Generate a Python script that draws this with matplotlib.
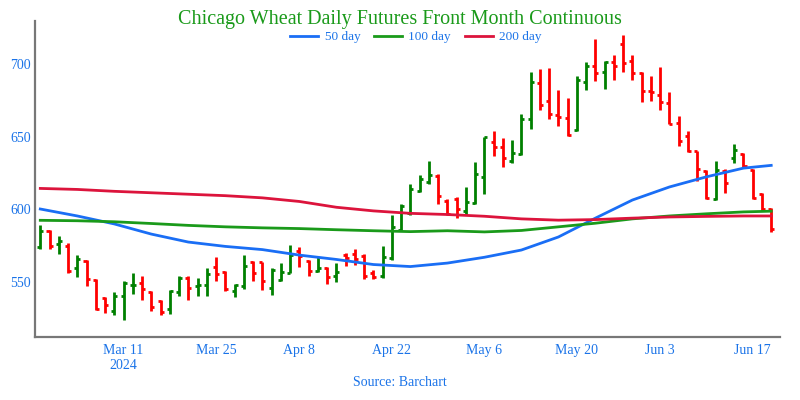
import matplotlib
matplotlib.use("Agg")
import matplotlib.pyplot as plt
from matplotlib.lines import Line2D
import pandas as pd

# Trading days (holidays: Good Friday, Memorial Day, Juneteenth)
holidays = ["2024-03-29", "2024-05-27", "2024-06-19"]
dates = [d for d in pd.bdate_range("2024-02-27", "2024-06-20") if d.strftime("%Y-%m-%d") not in holidays]

# Daily OHLC
opens = [574.0, 585.0, 576.0, 575.0, 559.7, 564.3, 551.6, 538.9, 529.7, 540.0,
         547.7, 549.5, 543.0, 537.0, 531.3, 543.0, 553.0, 547.0, 548.1, 560.4,
         556.5, 543.5, 547.0, 564.0, 563.4, 545.9, 551.6, 556.2, 571.2, 564.3,
         557.8, 559.7, 553.9, 568.9, 569.0, 568.2, 556.2, 553.9, 566.6, 585.7,
         597.2, 612.7, 618.6, 623.0, 606.0, 606.9, 598.8, 604.6, 622.6, 646.6,
         643.4, 633.4, 638.0, 662.7, 687.1, 674.9, 665.0, 663.4, 654.9, 688.0,
         698.7, 695.0, 701.9, 714.1, 702.6, 694.0, 681.9, 678.8, 673.3, 659.5,
         650.7, 640.0, 626.5, 607.4, 626.5, 635.7, 638.0, 626.9, 610.4, 600.0]
highs = [589.6, 585.5, 582.0, 577.0, 568.4, 565.4, 552.3, 539.4, 543.1, 550.4,
         556.2, 554.4, 544.0, 537.8, 544.5, 553.9, 553.9, 552.8, 559.7, 567.0,
         557.3, 548.6, 568.4, 564.5, 564.0, 559.7, 563.1, 575.3, 573.9, 565.4,
         567.0, 560.1, 563.1, 570.0, 572.8, 569.6, 558.5, 574.6, 595.9, 603.5,
         617.3, 623.5, 633.4, 624.2, 607.4, 608.8, 615.7, 633.0, 650.3, 654.2,
         649.6, 647.9, 665.7, 695.0, 696.8, 697.3, 682.1, 677.2, 691.8, 701.5,
         717.6, 702.6, 706.5, 720.3, 706.5, 694.5, 691.8, 698.0, 681.2, 664.5,
         654.2, 640.4, 627.2, 633.4, 627.7, 645.0, 639.2, 627.7, 611.5, 600.7]
lows = [572.8, 572.6, 569.6, 556.2, 553.2, 547.0, 530.4, 528.6, 526.9, 523.9,
        541.9, 537.8, 529.7, 527.4, 527.9, 540.0, 537.8, 540.5, 540.0, 550.4,
        543.5, 539.4, 545.4, 550.4, 544.7, 541.2, 550.4, 556.2, 560.1, 553.9,
        557.0, 548.6, 550.0, 561.3, 562.0, 552.0, 552.0, 552.8, 565.4, 585.0,
        596.5, 612.0, 617.3, 603.5, 595.9, 594.3, 596.5, 603.5, 610.4, 636.9,
        629.3, 632.3, 637.6, 655.3, 668.5, 662.7, 657.6, 650.7, 654.2, 682.5,
        688.7, 683.0, 689.4, 694.5, 689.4, 674.2, 674.9, 668.7, 658.8, 643.9,
        639.7, 619.6, 606.9, 606.4, 611.5, 632.3, 628.8, 607.4, 598.8, 584.3]
closes = [585.0, 575.0, 578.0, 557.3, 565.9, 551.8, 531.3, 534.3, 540.0, 549.3,
          548.1, 545.4, 533.0, 529.0, 544.0, 552.8, 545.9, 548.1, 555.5, 555.5,
          545.4, 547.8, 560.8, 556.2, 550.9, 558.5, 557.0, 568.4, 567.7, 557.3,
          559.7, 553.2, 556.6, 566.6, 566.0, 554.4, 553.6, 567.3, 588.0, 602.4,
          613.8, 621.2, 623.5, 609.2, 597.0, 600.0, 605.0, 624.5, 650.0, 643.4,
          635.7, 638.7, 662.7, 688.2, 671.9, 665.7, 664.1, 651.2, 689.4, 698.7,
          693.8, 701.5, 698.7, 701.0, 694.0, 681.9, 681.2, 674.2, 659.0, 647.2,
          640.4, 628.0, 608.0, 627.2, 618.0, 641.0, 630.0, 608.0, 600.0, 586.2]

# Moving averages, read every 4th session plus the last one
ma_days = [0, 4, 8, 12, 16, 20, 24, 28, 32, 36, 40, 44, 48, 52, 56, 60, 64, 68, 72, 76, 79]
ma50 = [600.3, 595.5, 590.0, 583.0, 577.5, 574.5, 572.3, 568.5, 565.5, 562.0, 560.6,
        563.0, 567.0, 572.0, 581.0, 594.0, 606.5, 615.5, 622.5, 628.5, 630.4]
ma100 = [592.5, 592.2, 591.5, 590.3, 589.0, 588.0, 587.3, 586.8, 586.0, 585.3, 584.7,
         585.3, 584.5, 585.5, 588.0, 590.5, 593.5, 595.5, 597.0, 598.3, 598.8]
ma200 = [614.5, 613.8, 612.5, 611.5, 610.5, 609.5, 608.0, 605.5, 601.5, 599.0, 597.3,
         596.5, 595.3, 593.5, 592.6, 593.0, 594.0, 594.8, 595.2, 595.5, 595.5]

tick_dates = ["2024-03-11", "2024-03-25", "2024-04-08", "2024-04-22",
              "2024-05-06", "2024-05-20", "2024-06-03", "2024-06-17"]
tick_labels = ["Mar 11\n2024", "Mar 25", "Apr 8", "Apr 22", "May 6", "May 20", "Jun 3", "Jun 17"]

plt.rcParams['font.family'] = ['Liberation Serif', 'DejaVu Serif']
TXT = "#1a73e8"
UP, DOWN = "#008000", "#ff0000"

fig = plt.figure(figsize=(8, 4), dpi=100)
ax = fig.add_axes([0.044, 0.1575, 0.931, 0.79])

x = list(range(len(dates)))
w = 0.33
for i in x:
    col = UP if closes[i] >= opens[i] else DOWN
    ax.vlines(i, lows[i], highs[i], color=col, lw=2)
    ax.hlines(opens[i], i - w, i, color=col, lw=2)
    ax.hlines(closes[i], i, i + w, color=col, lw=2)

ax.plot(ma_days, ma50, color="#1a6ef5", lw=2)
ax.plot(ma_days, ma100, color="#1a9a1a", lw=2)
ax.plot(ma_days, ma200, color="#dc143c", lw=2)

ax.set_xlim(-0.55, 79.95)
ax.set_ylim(512, 730)
ax.set_yticks([550, 600, 650, 700])
date_str = [d.strftime("%Y-%m-%d") for d in dates]
ax.set_xticks([date_str.index(d) for d in tick_dates])
ax.set_xticklabels(tick_labels)
ax.tick_params(axis='both', length=0, colors=TXT, labelsize=10)
ax.tick_params(axis='x', pad=5)
ax.tick_params(axis='y', pad=3)
for s in ["top", "right"]:
    ax.spines[s].set_visible(False)
for s in ["left", "bottom"]:
    ax.spines[s].set_color("#777777")
    ax.spines[s].set_linewidth(1.6)

fig.text(0.5, 0.952, "Chicago Wheat Daily Futures Front Month Continuous",
         ha='center', va='center', color="#1a9a1a", fontsize=14.5)
handles = [Line2D([], [], color="#1a6ef5", lw=2),
           Line2D([], [], color="#1a9a1a", lw=2),
           Line2D([], [], color="#dc143c", lw=2)]
fig.legend(handles, ["50 day", "100 day", "200 day"], ncol=3, frameon=False,
           loc='center', bbox_to_anchor=(0.52, 0.907), fontsize=9.5, labelcolor=TXT,
           handlelength=2.1, handletextpad=0.5, columnspacing=1.05)
fig.text(0.5, 0.043, "Source: Barchart", ha='center', va='center', color=TXT, fontsize=10)

fig.savefig("out.png", dpi=100)
